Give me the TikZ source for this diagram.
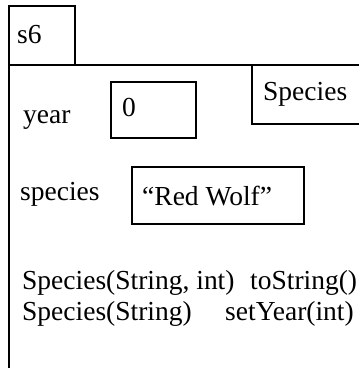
\documentclass[tikz,border=0pt]{standalone}
\usepackage{fontspec}
\setmainfont{Liberation Serif}
\tikzset{
  box/.style={draw=black,line width=2.7pt},
  lbl/.style={anchor=base west,inner sep=0pt,font=\fontsize{27.5}{32}\selectfont}
}
\begin{document}
\begin{tikzpicture}[x=1pt,y=-1pt]
 \useasboundingbox (0,0) rectangle (359,368);
 % reference box and object outline
 \draw[box](9,6) rectangle (75,65);
 \draw[box](9,372)--(9,65)--(363,65);
 \draw[box](252,65) rectangle (366,124);
 % field boxes
 \draw[box](111,82) rectangle (196,138);
 \draw[box](132,167) rectangle (304,224);
 % texts
 \node[lbl] (ref) at (17,43) {s6};
 \node[lbl] (cls) at (263,100) {Species};
 \node[lbl] (year) at (23,123) {year};
 \node[lbl] (yearval) at (122,116) {0};
 \node[lbl] (spec) at (20,200) {species};
 \node[lbl] (specval) at (142,205) {“Red Wolf”};
 \node[lbl] (ctora) at (22,289) {Species(String, int)};
 \node[lbl] (tostr) at (250,289) {toString()};
 \node[lbl] (ctorb) at (22,320) {Species(String)};
 \node[lbl] (setyr) at (225,320) {setYear(int)};
\end{tikzpicture}
\end{document}
